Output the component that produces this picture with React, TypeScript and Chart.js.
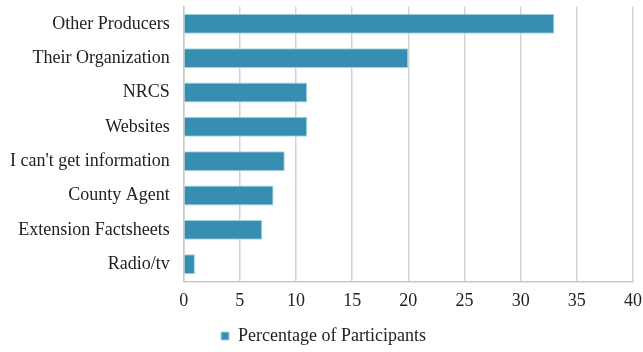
import React, { useEffect, useRef } from "react";
import { Chart, registerables } from "chart.js";

Chart.register(...registerables);

const categories = [
  "Other Producers",
  "Their Organization",
  "NRCS",
  "Websites",
  "I can't get information",
  "County Agent",
  "Extension Factsheets",
  "Radio/tv",
];
const values = [33, 20, 11, 11, 9, 8, 7, 1];
const seriesName = "Percentage of Participants";

const SHIFT_TOP = 11;
const EXTRA_RIGHT = 8;

export default function App() {
  const ref = useRef<HTMLCanvasElement | null>(null);
  useEffect(() => {
    document.body.style.margin = "0";
    document.body.style.overflow = "hidden";
    const family = "'Liberation Serif', 'Times New Roman', serif";
    const font = { family, size: 18 };
    const chart = new Chart(ref.current!, {
      type: "bar",
      data: {
        labels: categories,
        datasets: [
          {
            label: seriesName,
            data: values,
            backgroundColor: "#368fb0",
            borderColor: "#a8d3e3",
            borderWidth: 1,
            barPercentage: 0.58,
            categoryPercentage: 1,
          },
        ],
      },
      options: {
        indexAxis: "y",
        animation: false,
        responsive: false,
        maintainAspectRatio: false,
        layout: { padding: { top: 5, right: 0, left: -4, bottom: -3 } },
        plugins: {
          tooltip: { enabled: false },
          legend: {
            position: "bottom",
            labels: {
              font,
              color: "#222",
              boxWidth: 8,
              boxHeight: 8,
              padding: 6,
            },
          },
        },
        scales: {
          x: {
            min: 0,
            max: 40,
            ticks: { stepSize: 5, font, color: "#222", padding: 9 },
            grid: { color: "#d3d3d3", lineWidth: 1.5, drawTicks: false },
            border: { color: "#c8c8c8", width: 1.5 },
          },
          y: {
            ticks: { font: { family, size: 18, lineHeight: 0.4 }, color: "#222", padding: 14 },
            grid: { display: false, drawTicks: false },
            border: { color: "#c8c8c8", width: 1.5 },
          },
        },
      },
    });
    return () => chart.destroy();
  }, []);
  return (
    <div style={{ width: 643, height: 352, overflow: "hidden" }}>
      <canvas
        ref={ref}
        width={643 + EXTRA_RIGHT}
        height={352 + SHIFT_TOP}
        style={{ display: "block", marginTop: -SHIFT_TOP }}
      />
    </div>
  );
}
